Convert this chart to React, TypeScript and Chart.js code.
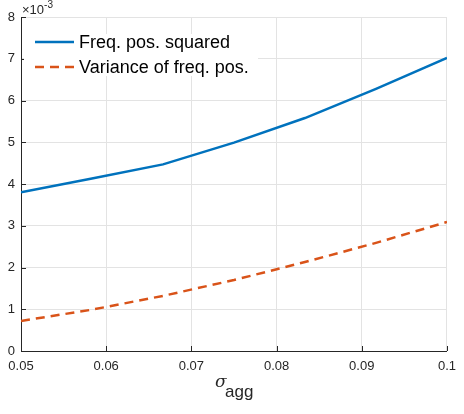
import React, { useEffect, useRef } from "react";
import { Chart, registerables } from "chart.js";

Chart.register(...registerables);

// sigma_agg values
const xValues = [0.05, 0.05833, 0.06667, 0.075, 0.08333, 0.09167, 0.1];
// values in units of 1e-3
const freqPosSquared = [3.8, 4.13, 4.47, 4.99, 5.58, 6.28, 7.02];
const varianceFreqPos = [0.72, 0.99, 1.32, 1.7, 2.13, 2.59, 3.09];
const seriesLabels = ["Freq. pos. squared", "Variance of freq. pos."];
const xTicks = [0.05, 0.06, 0.07, 0.08, 0.09, 0.1];
const yTicks = [0, 1, 2, 3, 4, 5, 6, 7, 8];

const BLUE = "#0072BD";
const ORANGE = "#D95319";
const AXIS = "#262626";
const GRID = "#e3e3e3";
const FONT = '"Liberation Sans", Arial, sans-serif';

const decorPlugin = {
  id: "decor",
  afterDraw(chart: any) {
    const ctx = chart.ctx;
    const { left, right, top, bottom } = chart.chartArea;
    const xs = chart.scales.x;
    const ys = chart.scales.y;
    ctx.save();
    // inward ticks
    ctx.strokeStyle = AXIS;
    ctx.lineWidth = 1;
    ctx.beginPath();
    xTicks.forEach((t) => {
      const px = Math.round(xs.getPixelForValue(t)) + 0.5;
      ctx.moveTo(px, bottom);
      ctx.lineTo(px, bottom - 5);
    });
    yTicks.forEach((t) => {
      const py = Math.round(ys.getPixelForValue(t)) + 0.5;
      ctx.moveTo(left, py);
      ctx.lineTo(left + 5, py);
    });
    ctx.stroke();

    // exponent label
    ctx.fillStyle = AXIS;
    ctx.textBaseline = "alphabetic";
    ctx.textAlign = "left";
    ctx.font = `13px ${FONT}`;
    ctx.fillText("\u00d710", left + 1, top - 3);
    const w = ctx.measureText("\u00d710").width;
    ctx.font = `10px ${FONT}`;
    ctx.fillText("-3", left + 1 + w, top - 9);

    // x axis title sigma_agg
    const cx = (left + right) / 2;
    ctx.font = `italic 17px "DejaVu Serif", serif`;
    ctx.fillStyle = AXIS;
    ctx.fillText("\u03c3", cx - 19, 387);
    ctx.font = `17px ${FONT}`;
    ctx.fillText("agg", cx - 9, 397);

    // legend
    ctx.fillStyle = "#ffffff";
    ctx.fillRect(left + 3, 34, 234, 42);
    const rows = [
      { label: seriesLabels[0], color: BLUE, dash: [] as number[], y: 42 },
      { label: seriesLabels[1], color: ORANGE, dash: [9, 6], y: 67 },
    ];
    rows.forEach((r) => {
      ctx.strokeStyle = r.color;
      ctx.lineWidth = 2.5;
      ctx.setLineDash(r.dash);
      ctx.beginPath();
      ctx.moveTo(left + 14, r.y);
      ctx.lineTo(left + 53, r.y);
      ctx.stroke();
      ctx.setLineDash([]);
      ctx.fillStyle = "#000000";
      ctx.font = `18px ${FONT}`;
      ctx.textBaseline = "middle";
      ctx.fillText(r.label, left + 58, r.y + 1);
    });
    ctx.restore();
  },
};

export default function App() {
  const ref = useRef<HTMLCanvasElement | null>(null);
  useEffect(() => {
    document.body.style.margin = "0";
    const canvas = ref.current!;
    const chart = new Chart(canvas, {
      type: "line",
      data: {
        datasets: [
          {
            label: seriesLabels[0],
            data: xValues.map((x, i) => ({ x, y: freqPosSquared[i] })),
            borderColor: BLUE,
            borderWidth: 2.5,
            pointRadius: 0,
            fill: false,
            tension: 0,
          },
          {
            label: seriesLabels[1],
            data: xValues.map((x, i) => ({ x, y: varianceFreqPos[i] })),
            borderColor: ORANGE,
            borderWidth: 2.5,
            borderDash: [9, 6],
            pointRadius: 0,
            fill: false,
            tension: 0,
          },
        ],
      },
      options: {
        responsive: false,
        animation: false,
        events: [],
        layout: { padding: { top: 17, right: 9, left: 0, bottom: 0 } },
        plugins: { legend: { display: false }, tooltip: { enabled: false } },
        scales: {
          x: {
            type: "linear",
            min: 0.05,
            max: 0.1,
            afterFit: (s: any) => {
              s.height = 63;
            },
            afterBuildTicks: (s: any) => {
              s.ticks = xTicks.map((v) => ({ value: v }));
            },
            ticks: {
              color: AXIS,
              font: { family: FONT, size: 13 },
              padding: 8,
              maxRotation: 0,
              callback: (v: any) => String(Number(Number(v).toFixed(2))),
            },
            grid: { color: GRID, drawTicks: false, lineWidth: 1 },
            border: { display: true, color: AXIS, width: 1 },
          },
          y: {
            type: "linear",
            min: 0,
            max: 8,
            afterFit: (s: any) => {
              s.width = 21;
            },
            afterBuildTicks: (s: any) => {
              s.ticks = yTicks.map((v) => ({ value: v }));
            },
            ticks: {
              color: AXIS,
              font: { family: FONT, size: 13 },
              padding: 6,
              callback: (v: any) => String(v),
            },
            grid: { color: GRID, drawTicks: false, lineWidth: 1 },
            border: { display: true, color: AXIS, width: 1 },
          },
        },
      },
      plugins: [decorPlugin],
    });
    return () => chart.destroy();
  }, []);
  return (
    <div style={{ position: "fixed", left: 0, top: 0, width: 464, height: 414, background: "#fff" }}>
      <canvas ref={ref} width={464} height={414} style={{ width: 464, height: 414 }} />
    </div>
  );
}
